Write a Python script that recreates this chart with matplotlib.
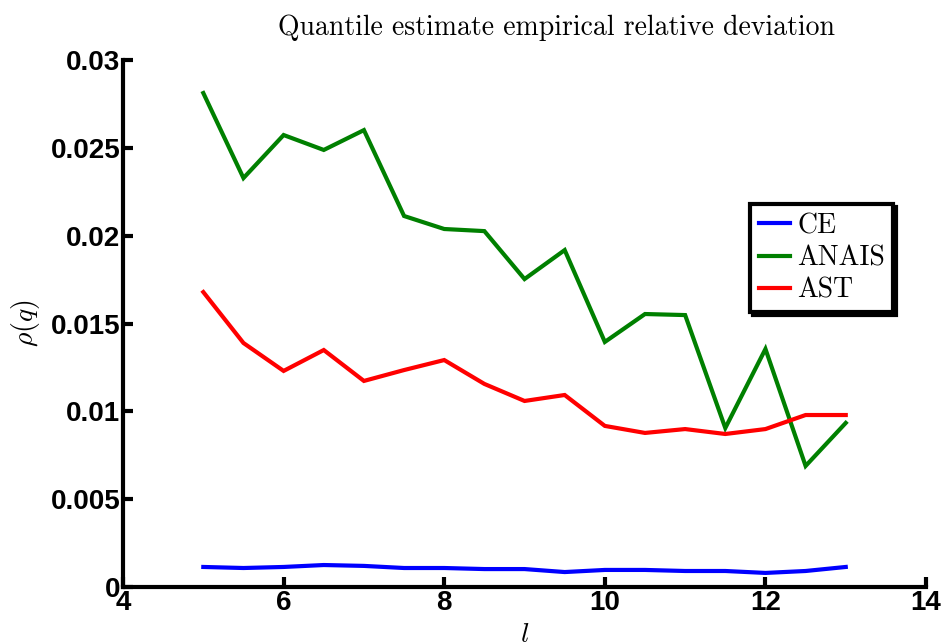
import matplotlib
matplotlib.use("Agg")
import matplotlib.pyplot as plt

l_values = [5, 5.5, 6, 6.5, 7, 7.5, 8, 8.5, 9, 9.5, 10, 10.5, 11, 11.5, 12, 12.5, 13]
ce = [0.00114, 0.00108, 0.00114, 0.00125, 0.0012, 0.00108, 0.00108, 0.00102, 0.00102,
      0.00085, 0.00097, 0.00097, 0.00091, 0.00091, 0.0008, 0.00091, 0.00114]
anais = [0.02812, 0.02328, 0.02573, 0.02488, 0.02601, 0.02112, 0.02038, 0.02026, 0.01753,
         0.01918, 0.01395, 0.01554, 0.01548, 0.00905, 0.01355, 0.00689, 0.00934]
ast = [0.01679, 0.01389, 0.0123, 0.01349, 0.01173, 0.01235, 0.01292, 0.01156, 0.01059,
       0.01093, 0.00917, 0.00877, 0.00899, 0.00871, 0.00899, 0.00979, 0.00979]
xticks = [4, 6, 8, 10, 12, 14]
yticks = [0, 0.005, 0.01, 0.015, 0.02, 0.025, 0.03]
ytick_labels = ["0", "0.005", "0.01", "0.015", "0.02", "0.025", "0.03"]

plt.rcParams['mathtext.fontset'] = 'cm'

fig = plt.figure(figsize=(9.44, 6.42), dpi=100)
ax = fig.add_axes([0.1303, 0.0857, 0.8507, 0.8208])

ax.plot(l_values, ce, color='#0000ff', lw=3, label='CE', solid_joinstyle='miter')
ax.plot(l_values, anais, color='#008000', lw=3, label='ANAIS', solid_joinstyle='miter')
ax.plot(l_values, ast, color='#ff0000', lw=3, label='AST', solid_joinstyle='miter')

ax.set_xlim(4, 14)
ax.set_ylim(0, 0.03)
ax.set_xticks(xticks)
ax.set_xticklabels([str(v) for v in xticks])
ax.set_yticks(yticks)
ax.set_yticklabels(ytick_labels)
for lab in ax.get_xticklabels() + ax.get_yticklabels():
    lab.set_fontfamily('Liberation Sans')
    lab.set_fontweight('bold')
    lab.set_fontsize(20)

ax.spines['top'].set_visible(False)
ax.spines['right'].set_visible(False)
ax.spines['left'].set_linewidth(3)
ax.spines['bottom'].set_linewidth(3)
ax.tick_params(direction='in', length=7, width=3, pad=2)

ax.set_ylabel(r'$\rho(q)$', fontsize=20, labelpad=6)
ax.set_xlabel(r'$l$', fontsize=20, labelpad=3)

fig.text(0.5895, 0.956, 'Quantile estimate empirical relative deviation',
         fontfamily='cmr10', fontsize=20, ha='center', va='center')

leg = ax.legend(loc='upper left', bbox_to_anchor=(0.781, 0.726), frameon=True,
                fancybox=False, shadow={'color': 'black', 'alpha': 1.0},
                handlelength=1.15, handletextpad=0.25,
                borderpad=0.3, labelspacing=0.22, borderaxespad=0, framealpha=1,
                prop={'family': 'cmr10', 'size': 20})
leg.get_frame().set_edgecolor('black')
leg.get_frame().set_linewidth(3)

fig.savefig('out.png', dpi=100, facecolor='white')
